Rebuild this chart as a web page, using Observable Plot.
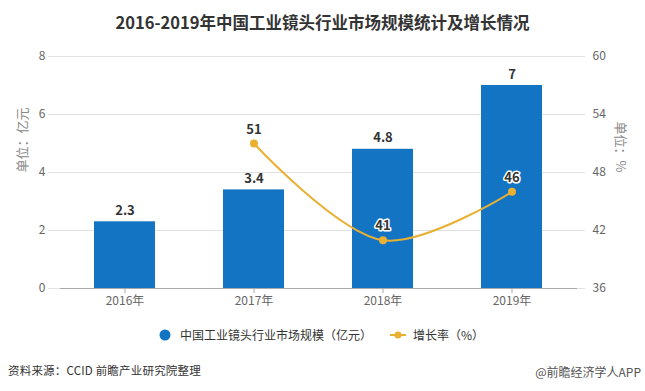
<!DOCTYPE html>
<html>
<head>
<meta charset="utf-8">
<script src="https://cdn.jsdelivr.net/npm/d3@7"></script>
<script src="https://cdn.jsdelivr.net/npm/@observablehq/plot@0.6"></script>
<style>
  body { margin: 0; background: #fff; font-family: "Noto Sans CJK SC", "Noto Sans", sans-serif; }
  #wrap { position: relative; width: 645px; height: 391px; overflow: hidden; background: #fff; }
  #chart { position: absolute; left: 0; top: 0; }
  #title { position: absolute; top: 12px; left: 0; width: 645px; text-align: center; font-size: 16.5px; line-height: 20px; font-weight: bold; color: #333; }
  .lg { position: absolute; font-size: 12px; line-height: 14px; color: #333; white-space: nowrap; }
  #src { position: absolute; left: 8px; top: 362px; font-size: 11.5px; line-height: 16px; color: #333; letter-spacing: 0.2px; white-space: nowrap; }
  #app { position: absolute; right: 4px; top: 364px; font-size: 12px; line-height: 16px; color: #555; white-space: nowrap; }
</style>
</head>
<body>
<div id="wrap">
  <div id="chart"></div>
  <div id="title">2016-2019年中国工业镜头行业市场规模统计及增长情况</div>
  <svg style="position:absolute;left:158px;top:328px" width="14" height="14"><circle cx="7" cy="7" r="5.5" fill="#1474c4"></circle></svg>
  <div class="lg" style="left:180px;top:328px">中国工业镜头行业市场规模（亿元）</div>
  <svg style="position:absolute;left:389px;top:328px" width="18" height="14"><line x1="1" y1="7" x2="17" y2="7" stroke="#e9b032" stroke-width="2"></line><circle cx="9" cy="7" r="3.5" fill="#e9b032"></circle></svg>
  <div class="lg" style="left:413px;top:328px">增长率（%）</div>
  <div id="src">资料来源：CCID 前瞻产业研究院整理</div>
  <div id="app">@前瞻经济学人APP</div>
</div>
<script>
const years = ["2016年", "2017年", "2018年", "2019年"];
const marketSize = [2.3, 3.4, 4.8, 7];
const growthYears = ["2017年", "2018年", "2019年"];
const growthRate = [51, 41, 46];
const leftTicks = [0, 2, 4, 6, 8];
const rightTicks = [36, 42, 48, 54, 60];

const barColor = "#1474c4";
const lineColor = "#e9b032";
const rMin = 36, rMax = 60, lMax = 8;
const toLeft = r => (r - rMin) / (rMax - rMin) * lMax;
const toRight = v => Math.round(v / lMax * (rMax - rMin) + rMin);

const barData = years.map((y, i) => ({year: y, value: marketSize[i]}));
const lineData = growthYears.map((y, i) => ({year: y, rate: growthRate[i], v: toLeft(growthRate[i])}));

const font = '"Noto Sans CJK SC", "Noto Sans", sans-serif';

const chart = Plot.plot({
  width: 645,
  height: 320,
  marginLeft: 60,
  marginRight: 68,
  marginTop: 56,
  marginBottom: 32,
  style: {fontFamily: font, fontSize: "12px", color: "#666", background: "transparent"},
  x: {domain: years, paddingInner: 0.527, paddingOuter: 0.2635, align: 0.5, label: null},
  y: {domain: [0, lMax], label: null},
  marks: [
    Plot.ruleY(leftTicks, {stroke: "#e2e2e2", insetLeft: -12, insetRight: -8}),
    Plot.ruleY([0], {stroke: "#a8a8a8"}),
    Plot.axisY(leftTicks, {anchor: "left", tickSize: 0, tickPadding: 15, label: null, fill: "#666"}),
    Plot.axisY(rightTicks.map(toLeft), {anchor: "right", tickSize: 0, tickPadding: 15, label: null, fill: "#666", tickFormat: toRight}),
    Plot.axisX({tickSize: 5, tickPadding: 3, label: null, stroke: "#aaa", fill: "#666"}),
    Plot.barY(barData, {x: "year", y: "value", fill: barColor}),
    Plot.text(barData, {x: "year", y: "value", text: d => String(d.value), dy: -11, fill: "#333", fontWeight: "bold", fontSize: 13}),
    Plot.line(lineData, {x: "year", y: "v", stroke: lineColor, strokeWidth: 2, curve: "catmull-rom"}),
    Plot.dot(lineData, {x: "year", y: "v", r: 4, fill: lineColor}),
    Plot.text(lineData, {x: "year", y: "v", text: d => String(d.rate), dy: -14, fill: "#333", stroke: "white", strokeWidth: 3, fontWeight: "bold", fontSize: 13}),
    Plot.text(["单位：亿元"], {frameAnchor: "left", text: d => d, rotate: -90, dx: -38, fill: "#888", fontSize: 13}),
    Plot.text(["单位：%"], {frameAnchor: "right", text: d => d, rotate: 90, dx: 43, fill: "#888", fontSize: 13})
  ]
});
document.getElementById("chart").appendChild(chart);
</script>
</body>
</html>
